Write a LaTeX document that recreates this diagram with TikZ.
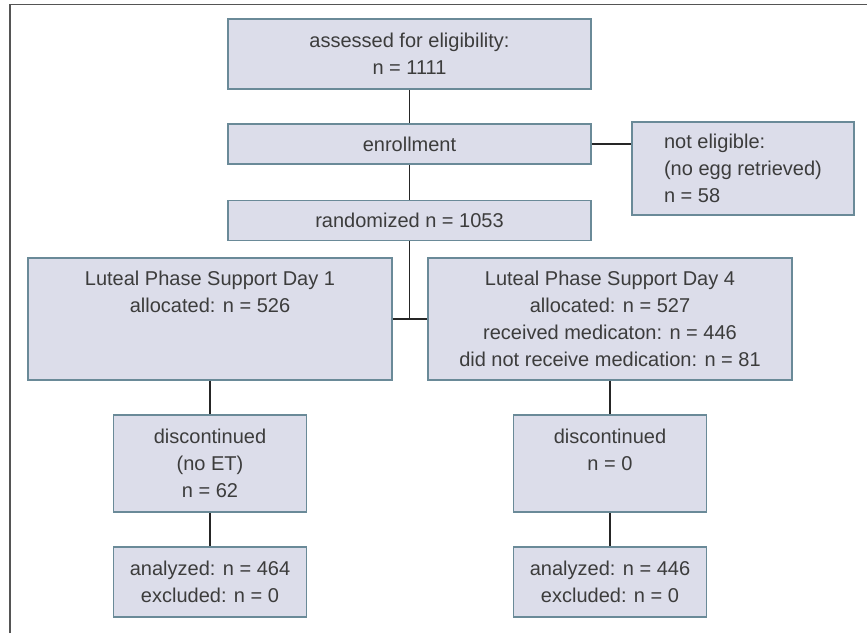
\documentclass[tikz,border=0pt]{standalone}
\usepackage{fontspec}
\setmainfont{Liberation Sans}
\definecolor{boxfill}{HTML}{DCDDEA}
\definecolor{boxline}{HTML}{6A8A98}
\definecolor{textgray}{HTML}{3C3C3C}
\definecolor{framegray}{HTML}{555555}

\begin{document}
\begin{tikzpicture}[x=1pt, y=1pt, node distance=76pt]

    % styles
    \tikzstyle{box} = [rectangle, minimum width=363pt, minimum height=40pt, inner sep=0pt, align=center, draw=boxline, fill=boxfill, line width=1.8pt, text=textgray, font=\fontsize{20}{27}\selectfont]
    \tikzstyle{groupbox} = [box, minimum width=364pt, minimum height=122pt]
    \tikzstyle{stepbox} = [box, minimum width=193pt, minimum height=97pt]
    \tikzstyle{resultbox} = [box, minimum width=193pt, minimum height=70pt]
    \tikzstyle{sidebox} = [box, minimum width=222pt, minimum height=93pt, align=left]
    \tikzstyle{link} = [line width=1.6pt, draw=black!85]

    % frame
    \useasboundingbox (0,0) rectangle (867,-633);
    \draw [framegray, line width=1.5pt] (10,-633) -- (10,-4.5) -- (867,-4.5);

    % nodes
    \node (assessed) [box, minimum height=70pt] at (409.5,-54) {assessed for eligibility:\\n = 1111};
    \node (enrollment) [box, node distance=90pt, below of=assessed] {enrollment};
    \node (randomized) [box, node distance=76.5pt, below of=enrollment] {randomized n = 1053};
    \node (noteligible) [sidebox, node distance=333.5pt, right of=enrollment, yshift=-24.5pt] {not eligible:\\(no egg retrieved)\\n = 58};
    \node (day1) [groupbox] at (210,-319) {Luteal Phase Support Day 1\\allocated: n = 526\\ \vphantom{1}\\ \vphantom{1}};
    \node (day4) [groupbox, node distance=400pt, right of=day1] {Luteal Phase Support Day 4\\allocated: n = 527\\received medicaton: n = 446\\did not receive medication: n = 81};
    \node (disc1) [stepbox, node distance=144.5pt, below of=day1] {discontinued\\(no ET)\\n = 62};
    \node (disc4) [stepbox, node distance=144.5pt, below of=day4] {discontinued\\n = 0\\ \vphantom{0}};
    \node (ana1) [resultbox, node distance=118.5pt, below of=disc1] {analyzed: n = 464\\excluded: n = 0};
    \node (ana4) [resultbox, node distance=118.5pt, below of=disc4] {analyzed: n = 446\\excluded: n = 0};

    % links
    \draw [link] (assessed) -- (enrollment);
    \draw [link] (enrollment) -- (randomized);
    \draw [link] (enrollment) -- (noteligible.west |- enrollment);
    \draw [link] (day1) -- (day4);
    \draw [link] (randomized) -- (randomized |- day1);
    \draw [link] (day1) -- (disc1);
    \draw [link] (disc1) -- (ana1);
    \draw [link] (day4) -- (disc4);
    \draw [link] (disc4) -- (ana4);

\end{tikzpicture}
\end{document}
